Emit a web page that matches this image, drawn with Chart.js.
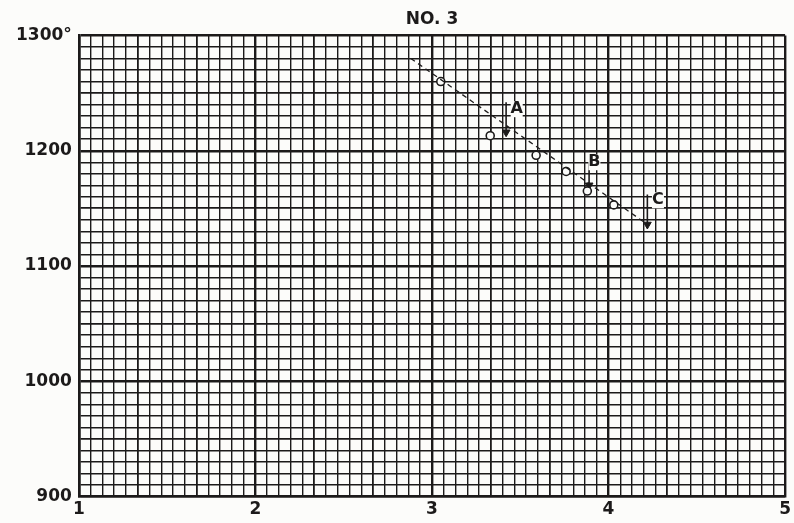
<!DOCTYPE html>
<html>
<head>
<meta charset="utf-8">
<title>No. 3</title>
<script src="https://cdn.jsdelivr.net/npm/chart.js@4.4.1/dist/chart.umd.min.js"></script>
<style>
  html, body { margin: 0; padding: 0; background: #fcfcfa; }
  #wrap { width: 794px; height: 523px; position: relative; }
</style>
</head>
<body>
<div id="wrap"><canvas id="chart"></canvas></div>
<script>
// observed points (circles)
const markX = [3.05, 3.33, 3.59, 3.76, 3.88, 4.03];
const markY = [1260, 1213, 1196, 1182, 1165, 1153];

// dashed trend line, two ends
const lineX = [2.88, 4.23];
const lineY = [1280, 1135];

// arrows A, B, C: shaft top and tip
const arrowNames = ['A', 'B', 'C'];
const arrowX = [3.42, 3.89, 4.22];
const arrowTop = [1242, 1190, 1162];
const arrowTip = [1216, 1170, 1136];
const letterX = [3.48, 3.92, 4.28];
const letterY = [1236, 1190, 1157];

// axis tick labels
const xTickLabels = ['1', '2', '3', '4', '5'];
const yTickLabels = ['900', '1000', '1100', '1200', '1300°'];

const INK = '#1c1a1a';
const FONT = "'DejaVu Sans', sans-serif";

const datasets = [
  {
    label: 'trend',
    data: lineX.map((x, i) => ({ x, y: lineY[i] })),
    borderColor: INK,
    borderWidth: 1.3,
    borderDash: [5, 4],
    pointRadius: 0,
    showLine: true,
  },
  {
    label: 'points',
    data: markX.map((x, i) => ({ x, y: markY[i] })),
    showLine: false,
    pointRadius: 4,
    pointBorderWidth: 1.6,
    pointBorderColor: INK,
    pointBackgroundColor: '#fcfcfa',
  },
];

arrowNames.forEach((name, i) => {
  datasets.push({
    label: 'arrow ' + name,
    data: [{ x: arrowX[i], y: arrowTop[i] }, { x: arrowX[i], y: arrowTip[i] }],
    showLine: true,
    borderColor: INK,
    borderWidth: 1.6,
    pointRadius: [0, 4.5],
    pointStyle: 'triangle',
    rotation: 180,
    pointBackgroundColor: INK,
    pointBorderColor: INK,
    pointBorderWidth: 1,
  });
});

// letters beside the arrows, placed through the scales
const letterPlugin = {
  id: 'letters',
  afterDatasetsDraw(chart) {
    const { ctx, scales } = chart;
    ctx.save();
    ctx.font = 'bold 16px ' + FONT;
    ctx.textAlign = 'center';
    ctx.textBaseline = 'middle';
    arrowNames.forEach((name, i) => {
      const px = scales.x.getPixelForValue(letterX[i]);
      const py = scales.y.getPixelForValue(letterY[i]);
      ctx.fillStyle = '#fcfcfa';
      ctx.fillRect(px - 6, py - 8, 12, 16);
      ctx.fillStyle = INK;
      ctx.fillText(name, px, py);
    });
    ctx.restore();
  },
};

// x grid: 15 small divisions per unit
const xGrid = [];
for (let i = 0; i <= 60; i++) xGrid.push(1 + i / 15);

function xIndex(v) { return Math.round((v - 1) * 15); }

new Chart(document.getElementById('chart'), {
  type: 'scatter',
  data: { datasets },
  plugins: [letterPlugin],
  options: {
    responsive: true,
    maintainAspectRatio: false,
    animation: false,
    layout: { padding: { left: 9, right: 0, top: 3, bottom: 0 } },
    plugins: {
      legend: { display: false },
      tooltip: { enabled: false },
      title: {
        display: true,
        text: 'NO. 3',
        fullSize: false,
        color: INK,
        font: { family: FONT, size: 17, weight: 'bold' },
        padding: { top: 6, bottom: 6 },
      },
    },
    scales: {
      x: {
        type: 'linear',
        min: 1,
        max: 5,
        afterBuildTicks(scale) {
          scale.ticks = xGrid.map(v => ({ value: v }));
        },
        ticks: {
          autoSkip: false,
          maxRotation: 0,
          padding: 3,
          color: INK,
          font: { family: FONT, size: 17, weight: 'bold' },
          callback(v) {
            const i = xIndex(v);
            return i % 15 === 0 ? xTickLabels[i / 15] : '';
          },
        },
        grid: {
          drawTicks: false,
          color: INK,
          lineWidth(c) {
            const i = xIndex(c.tick.value);
            if (i % 15 === 0) return 2.4;
            if (i % 5 === 0) return 1.8;
            return 1.4;
          },
        },
        border: { color: INK, width: 2.6 },
      },
      y: {
        type: 'linear',
        min: 900,
        max: 1300,
        ticks: {
          stepSize: 10,
          autoSkip: false,
          padding: 7,
          color: INK,
          font: { family: FONT, size: 17, weight: 'bold' },
          callback(v) {
            return v % 100 === 0 ? yTickLabels[(v - 900) / 100] : '';
          },
        },
        grid: {
          drawTicks: false,
          color: INK,
          lineWidth(c) {
            const v = c.tick.value;
            if (v % 100 === 0) return 2.4;
            if (v % 50 === 0) return 1.8;
            return 1.4;
          },
        },
        border: { color: INK, width: 2.6 },
      },
    },
  },
});
</script>
</body>
</html>
